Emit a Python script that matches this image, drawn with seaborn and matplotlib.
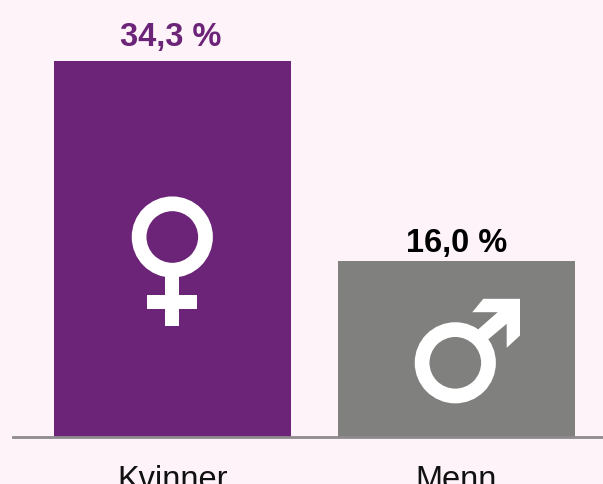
import matplotlib
matplotlib.use("Agg")
import matplotlib.pyplot as plt
import matplotlib.patches as mpatches
import pandas as pd
import seaborn as sns

categories = ["Kvinner", "Menn"]
values = [34.3, 16.0]
value_labels = ["34,3 %", "16,0 %"]
bar_colors = ["#6b2478", "#80807e"]
label_colors = ["#6b2478", "#000000"]

bg = "#fdf3f9"
sns.set_theme(style="white")
plt.rcParams["font.family"] = ["Liberation Sans", "DejaVu Sans"]

df = pd.DataFrame({"group": categories, "share": values})

fig = plt.figure(figsize=(6.03, 4.85), dpi=100, facecolor=bg)
# axes spans the baseline from x=12 px to the right edge, baseline at y=437 px
ax = fig.add_axes([12.5 / 603, (485 - 437.7) / 485, 590.5 / 603, (437 - 61) / 485], facecolor=bg)

sns.barplot(data=df, x="group", y="share", hue="group", palette=bar_colors,
            legend=False, width=0.835, saturation=1, linewidth=0, ax=ax)

ax.set_xlim(-160 / 284, 430.5 / 284)
ax.set_ylim(0, values[0])
ax.set_xlabel("")
ax.set_ylabel("")
ax.set_yticks([])
ax.set_xticks([0, 1], categories)
ax.tick_params(axis="x", length=0, labelsize=23.5, pad=19.5, labelcolor="#111111")

for s in ["top", "left", "right"]:
    ax.spines[s].set_visible(False)
ax.spines["bottom"].set_color("#8f8a8e")
ax.spines["bottom"].set_linewidth(2)

# the top label sits further above its bar than the lower one
label_gaps = [9, 3]
label_shift = [-1.5, 0]
for i in range(len(values)):
    ax.annotate(value_labels[i], (i, values[i]), xytext=(label_shift[i], label_gaps[i]),
                textcoords="offset pixels", ha="center", va="bottom", fontsize=23.5,
                fontweight="bold", color=label_colors[i])

# gender symbols, drawn in pixel coordinates of the figure
overlay = fig.add_axes([0, 0, 1, 1], facecolor="none")
overlay.set_xlim(0, 603)
overlay.set_ylim(484.5, -0.5)
overlay.axis("off")

overlay.add_patch(mpatches.Circle((172.3, 237.5), 33.2, fill=False, ec="white", lw=10.6))
overlay.add_patch(mpatches.Rectangle((165, 272), 14.3, 54.7, fc="white", ec="none"))
overlay.add_patch(mpatches.Rectangle((147, 295), 50, 14.3, fc="white", ec="none"))

overlay.add_patch(mpatches.Circle((455.3, 363.3), 33.2, fill=False, ec="white", lw=10.6))
overlay.add_patch(mpatches.Polygon([(483.3, 299.3), (520, 299.3), (520, 336), (506.7, 348.3),
                                    (506.7, 324.3), (488, 340), (478, 330), (497.7, 312.7), (472.3, 312.7)],
                                   closed=True, fc="white", ec="none"))

fig.savefig("out.png", dpi=100, facecolor=bg)
